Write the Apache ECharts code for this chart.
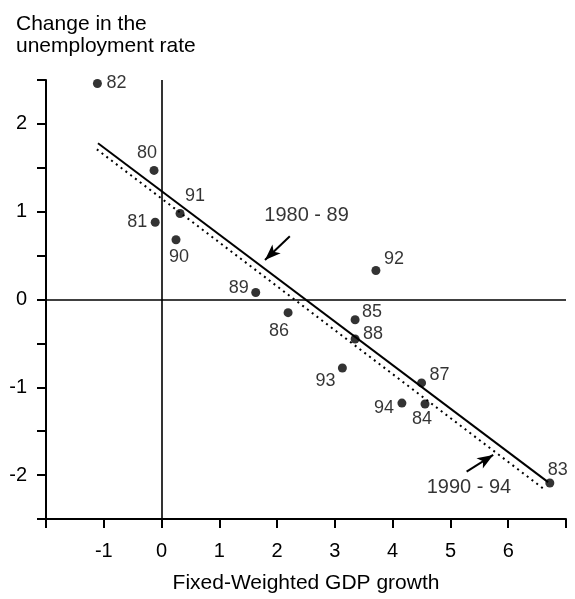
<!DOCTYPE html>
<html>
<head>
<meta charset="utf-8">
<script src="https://cdn.jsdelivr.net/npm/echarts@6/dist/echarts.min.js"></script>
<style>
html,body{margin:0;padding:0;background:#fff;}
#chart{width:575px;height:599px;}
</style>
</head>
<body>
<div id="chart"></div>
<script>
// ---- data ----
const years = ['82','80','81','91','90','89','86','92','85','88','93','87','94','84','83'];
const gdpGrowth = [-1.11,-0.13,-0.11,0.32,0.25,1.63,2.19,3.71,3.35,3.35,3.13,4.50,4.16,4.56,6.72];
const unempChange = [2.46,1.47,0.88,0.98,0.68,0.08,-0.15,0.33,-0.23,-0.45,-0.78,-0.95,-1.18,-1.19,-2.09];

const fit8089X = [-1.10, 6.69];
const fit8089Y = [1.78, -2.08];
const fit9094X = [-1.12, 6.60];
const fit9094Y = [1.71, -2.15];

const annotTexts = ['1980 - 89', '1990 - 94'];
const annotX = [2.51, 5.32];
const annotY = [0.96, -2.14];
const arrowTailX = [2.22, 5.28];
const arrowTailY = [0.72, -1.96];
const arrowHeadX = [1.79, 5.74];
const arrowHeadY = [0.45, -1.77];

const xTicks = [-2,-1,0,1,2,3,4,5,6,7];
const xTickLabels = ['', '-1','0','1','2','3','4','5','6',''];
const yTickLabels = {'-2':'-2','-1':'-1','0':'0','1':'1','2':'2'};

// ---- layout (label offsets, px) ----
const labelOffsets = {
  '82':[19,0],'80':[-7,-17],'81':[-18,0],'91':[15,-17],'90':[3,17],'89':[-17,-4],
  '86':[-9,18],'92':[18,-11],'85':[17,-8],'88':[18,-5],'93':[-17,13],'87':[18,-8],
  '94':[-18,5],'84':[-3,15],'83':[8,-13]
};

const FONT = '"Liberation Sans", Arial, Helvetica, sans-serif';

const chart = echarts.init(document.getElementById('chart'));

const pts = years.map((y, i) => ({
  value: [gdpGrowth[i], unempChange[i]],
  name: y,
  label: { offset: labelOffsets[y] }
}));

const arrowLines = annotTexts.map((t, i) => [
  { coord: [arrowTailX[i], arrowTailY[i]], symbol: 'none' },
  { coord: [arrowHeadX[i], arrowHeadY[i]], symbol: 'arrow' }
]);

const option = {
  backgroundColor: '#fff',
  animation: false,
  title: {
    text: 'Change in the\nunemployment rate',
    left: 11, top: 8,
    textStyle: { fontFamily: FONT, fontSize: 21, fontWeight: 'normal', color: '#000', lineHeight: 22 }
  },
  grid: { left: 46, right: 9, top: 80, bottom: 80, containLabel: false },
  xAxis: {
    type: 'value', min: -2, max: 7, interval: 1,
    name: 'Fixed-Weighted GDP growth', nameLocation: 'middle', nameGap: 54,
    nameTextStyle: { fontFamily: FONT, fontSize: 21, color: '#000' },
    axisLine: { show: true, onZero: false, lineStyle: { color: '#000', width: 2 } },
    axisTick: { show: true, inside: false, length: 9, lineStyle: { color: '#000', width: 2 } },
    axisLabel: {
      fontFamily: FONT, fontSize: 20, color: '#000', margin: 22,
      showMinLabel: true, showMaxLabel: true,
      formatter: v => { const k = xTicks.indexOf(Math.round(v)); return k >= 0 ? xTickLabels[k] : ''; }
    },
    splitLine: { show: false }
  },
  yAxis: {
    type: 'value', min: -2.5, max: 2.5, interval: 0.5,
    axisLine: { show: true, onZero: false, lineStyle: { color: '#000', width: 2 } },
    axisTick: { show: true, inside: false, length: 9, lineStyle: { color: '#000', width: 2 } },
    axisLabel: {
      fontFamily: FONT, fontSize: 20, color: '#000', margin: 19,
      showMinLabel: true, showMaxLabel: true,
      formatter: v => { const key = String(Math.round(v * 100) / 100); return yTickLabels[key] !== undefined ? yTickLabels[key] : ''; }
    },
    splitLine: { show: false }
  },
  series: [
    {
      type: 'line', name: 'zero', data: [], silent: true,
      markLine: {
        silent: true, symbol: 'none', label: { show: false },
        lineStyle: { color: '#000', width: 1.6, type: 'solid' },
        data: [
          [{ coord: [-2, 0] }, { coord: [7, 0] }],
          [{ coord: [0, -2.5] }, { coord: [0, 2.5] }]
        ]
      }
    },
    {
      type: 'line', name: '1980 - 89',
      data: fit8089X.map((x, i) => [x, fit8089Y[i]]),
      symbol: 'none', lineStyle: { color: '#000', width: 2 }
    },
    {
      type: 'line', name: '1990 - 94',
      data: fit9094X.map((x, i) => [x, fit9094Y[i]]),
      symbol: 'none', lineStyle: { color: '#000', width: 2, type: [2, 4] }
    },
    {
      type: 'scatter', name: 'years', data: pts,
      symbol: 'circle', symbolSize: 9,
      itemStyle: { color: '#000' },
      label: {
        show: true, position: 'inside', formatter: p => p.name,
        fontFamily: FONT, fontSize: 18, color: '#000'
      },
      z: 5
    },
    {
      type: 'scatter', name: 'annotations',
      data: annotTexts.map((t, i) => ({ value: [annotX[i], annotY[i]], name: t })),
      symbolSize: 0,
      label: {
        show: true, position: 'inside', formatter: p => p.name,
        fontFamily: FONT, fontSize: 20, color: '#000'
      },
      markLine: {
        silent: true, label: { show: false },
        symbolSize: [9, 16],
        lineStyle: { color: '#000', width: 2, type: 'solid' },
        data: arrowLines
      }
    }
  ]
};
chart.setOption(option);
</script>
</body>
</html>
